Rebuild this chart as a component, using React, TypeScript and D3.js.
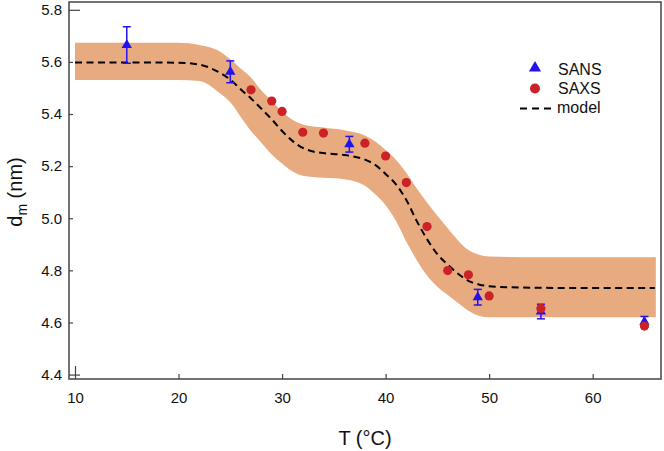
import React, { useEffect, useRef } from "react";
import * as d3 from "d3";

// model curve (dashed) and its uncertainty band
const modelT = [10, 15, 20, 22, 24, 25, 26, 27, 28, 29, 30, 31, 32, 33, 34, 36, 38, 39, 40, 41, 42, 43, 44, 45, 46, 47, 48, 49, 50, 52, 55, 60, 66];
const modelD = [5.598, 5.598, 5.597, 5.59, 5.558, 5.532, 5.495, 5.46, 5.42, 5.38, 5.335, 5.297, 5.27, 5.256, 5.25, 5.243, 5.225, 5.205, 5.17, 5.13, 5.07, 4.99, 4.92, 4.862, 4.822, 4.787, 4.76, 4.746, 4.739, 4.735, 4.733, 4.732, 4.732];

const bandT = [10, 20, 22, 24, 25, 26, 27, 28, 29, 30, 31, 32, 34, 36, 38, 39, 40, 41, 42, 43, 44, 45, 46, 47, 48, 49, 50, 52, 55, 60, 66.1];
const bandUpper = [5.674, 5.674, 5.665, 5.64, 5.61, 5.575, 5.54, 5.49, 5.45, 5.41, 5.378, 5.36, 5.348, 5.338, 5.318, 5.295, 5.262, 5.225, 5.175, 5.115, 5.06, 5.01, 4.962, 4.915, 4.878, 4.86, 4.853, 4.851, 4.85, 4.85, 4.85];
const bandLower = [5.531, 5.531, 5.527, 5.48, 5.445, 5.39, 5.335, 5.29, 5.245, 5.21, 5.18, 5.163, 5.155, 5.15, 5.125, 5.092, 5.05, 4.99, 4.91, 4.84, 4.78, 4.737, 4.705, 4.675, 4.645, 4.626, 4.62, 4.62, 4.62, 4.62, 4.62];

// SANS (triangles with error bars)
const sansT = [15, 25, 36.5, 48.9, 55, 65];
const sansD = [5.665, 5.562, 5.284, 4.697, 4.642, 4.603];
const sansErr = [0.07, 0.042, 0.03, 0.03, 0.028, 0.02];

// SAXS (circles)
const saxsT = [27, 29, 30, 32, 34, 38, 40, 42, 44, 46, 48, 50, 55, 65];
const saxsD = [5.493, 5.45, 5.41, 5.33, 5.327, 5.288, 5.239, 5.137, 4.968, 4.799, 4.783, 4.702, 4.654, 4.586];

const xTicks = [10, 20, 30, 40, 50, 60];
const yTicks = [4.4, 4.6, 4.8, 5.0, 5.2, 5.4, 5.6, 5.8];

const legendLabels = ["SANS", "SAXS", "model"];

const font = "Arial, 'Liberation Sans', sans-serif";

export default function App() {
    const ref = useRef<SVGSVGElement>(null);

    useEffect(() => {
        const svg = d3.select(ref.current);
        svg.selectAll("*").remove();

        const left = 69, right = 661, top = 2, bottom = 379;

        const x = d3.scaleLinear().domain([9.42, 66.6]).range([left, right]);
        const y = d3.scaleLinear().domain([4.383, 5.83]).range([bottom, top]);

        // band
        const area = d3.area<number>()
            .x((t) => x(t))
            .y0((t, i) => y(bandLower[i]))
            .y1((t, i) => y(bandUpper[i]))
            .curve(d3.curveMonotoneX);
        svg.append("path")
            .datum(bandT)
            .attr("d", area)
            .attr("fill", "#e7ab7f");

        // model
        const line = d3.line<number>()
            .x((t) => x(t))
            .y((t, i) => y(modelD[i]))
            .curve(d3.curveMonotoneX);
        svg.append("path")
            .datum(modelT)
            .attr("d", line)
            .attr("fill", "none")
            .attr("stroke", "#000")
            .attr("stroke-width", 2)
            .attr("stroke-dasharray", "7,4.5");

        // axes
        const yAxis = svg.append("g")
            .attr("transform", `translate(${left},0)`)
            .call(d3.axisLeft(y).tickValues(yTicks).tickFormat(d3.format(".1f")).tickSizeInner(-4).tickSizeOuter(0).tickPadding(7));
        yAxis.select(".domain").remove();
        yAxis.selectAll(".tick line")
            .attr("x2", (d: any) => (d === 4.4 || d === 5.8 ? 11 : 4))
            .attr("stroke", "#444").attr("stroke-width", 1.2);
        yAxis.selectAll("text").attr("font-size", 15).attr("font-family", font).attr("fill", "#111");

        const xAxis = svg.append("g")
            .attr("transform", `translate(0,${bottom})`)
            .call(d3.axisBottom(x).tickValues(xTicks).tickFormat(d3.format("d")).tickSizeInner(-5).tickSizeOuter(0).tickPadding(13));
        xAxis.select(".domain").remove();
        xAxis.selectAll(".tick line")
            .attr("y2", (d: any) => (d === 10 ? -13 : -5))
            .attr("stroke", "#444").attr("stroke-width", 1.2);
        xAxis.selectAll("text").attr("font-size", 15).attr("font-family", font).attr("fill", "#111");

        svg.append("rect")
            .attr("x", left).attr("y", top)
            .attr("width", right - left).attr("height", bottom - top)
            .attr("fill", "none").attr("stroke", "#444").attr("stroke-width", 1.5);

        // axis titles
        svg.append("text")
            .attr("transform", `translate(22,192) rotate(-90)`)
            .attr("text-anchor", "middle")
            .attr("font-family", font).attr("font-size", 20).attr("fill", "#111")
            .call((t) => {
                t.append("tspan").text("d");
                t.append("tspan").attr("font-size", 14).attr("dy", 5).text("m");
                t.append("tspan").attr("dy", -5).text(" (nm)");
            });
        svg.append("text")
            .attr("x", (left + right) / 2).attr("y", 445)
            .attr("text-anchor", "middle")
            .attr("font-family", font).attr("font-size", 20).attr("fill", "#111")
            .text("T (°C)");

        const blue = "#2412ee";
        const red = "#cc2127";

        // SANS error bars + triangles
        const sans = svg.append("g");
        sansT.forEach((t, i) => {
            const cx = x(t);
            const y1 = y(sansD[i] + sansErr[i]), y0 = y(sansD[i] - sansErr[i]);
            sans.append("line").attr("x1", cx).attr("x2", cx).attr("y1", y1).attr("y2", y0)
                .attr("stroke", blue).attr("stroke-width", 1.5);
            [y1, y0].forEach((yy) =>
                sans.append("line").attr("x1", cx - 4).attr("x2", cx + 4).attr("y1", yy).attr("y2", yy)
                    .attr("stroke", blue).attr("stroke-width", 1.5));
            sans.append("path")
                .attr("d", d3.symbol(d3.symbolTriangle, 46)())
                .attr("transform", `translate(${cx},${y(sansD[i])})`)
                .attr("fill", blue);
        });

        // SAXS circles
        svg.append("g").selectAll("circle")
            .data(saxsT)
            .enter()
            .append("circle")
            .attr("cx", (t) => x(t))
            .attr("cy", (t, i) => y(saxsD[i]))
            .attr("r", 4.6)
            .attr("fill", red);

        // legend
        const lg = svg.append("g").attr("font-family", font).attr("font-size", 16).attr("fill", "#111");
        lg.append("path").attr("d", d3.symbol(d3.symbolTriangle, 64)()).attr("transform", "translate(535,68)").attr("fill", blue);
        lg.append("circle").attr("cx", 535).attr("cy", 88.5).attr("r", 5).attr("fill", red);
        lg.append("line").attr("x1", 520).attr("x2", 554).attr("y1", 108.5).attr("y2", 108.5)
            .attr("stroke", "#000").attr("stroke-width", 2).attr("stroke-dasharray", "7,5");
        [75, 93.5, 113].forEach((by, i) =>
            lg.append("text").attr("x", i === 2 ? 557 : 558).attr("y", by).text(legendLabels[i]));
    }, []);

    return (
        <svg ref={ref} width={664} height={451} style={{ position: "absolute", left: 0, top: 0, background: "#fff" }} />
    );
}
